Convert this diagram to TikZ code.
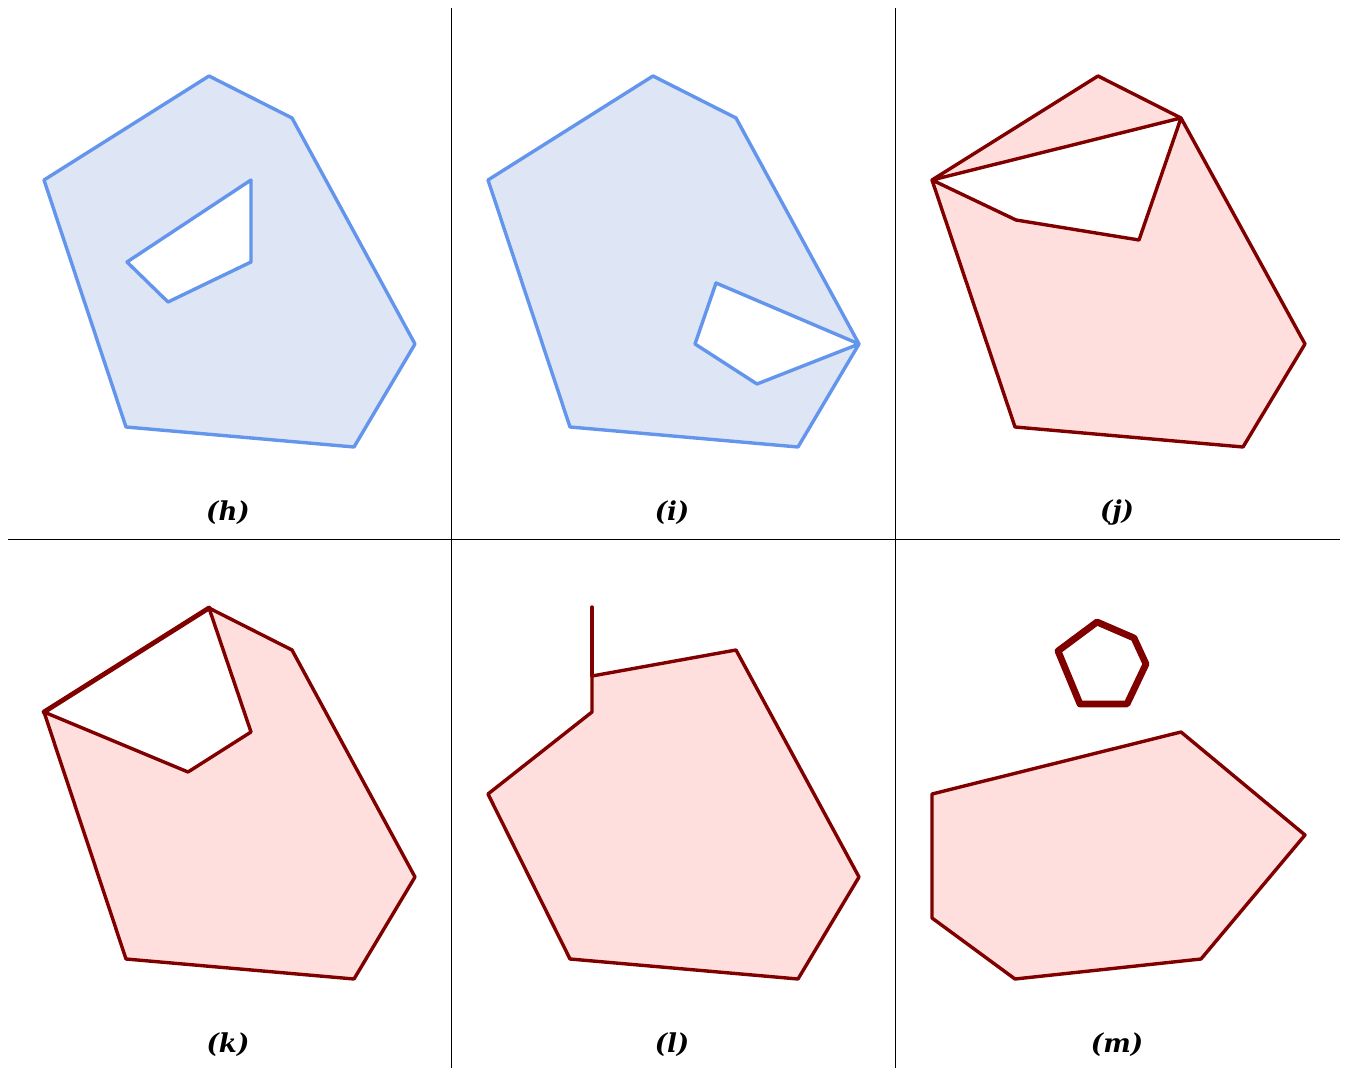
\documentclass[tikz,border=0pt]{standalone}
\usepackage{fontspec}
\setmainfont{DejaVu Serif}
\definecolor{bstroke}{RGB}{100,149,237}
\definecolor{bfill}{RGB}{222,229,245}
\definecolor{rstroke}{RGB}{128,0,0}
\definecolor{rfill}{RGB}{255,222,222}
\begin{document}
\begin{tikzpicture}[x=0.5pt,y=-0.5pt,
  bpoly/.style={draw=bstroke,fill=bfill,line width=1.7pt,even odd rule,line join=round},
  rpoly/.style={draw=rstroke,fill=rfill,line width=1.7pt,even odd rule,line join=round,line cap=round},
  grid/.style={draw=black,line width=0.5pt},
  lab/.style={font=\fontsize{13}{16}\selectfont\bfseries\itshape}]
\useasboundingbox (0,0) rectangle (1348,1068);
% grid
\draw[grid] (451,8) -- (451,1068);
\draw[grid] (895,8) -- (895,1068);
\draw[grid] (8,540) -- (1340,540);
% (h)
\path[bpoly] (44,180) -- (209,76) -- (292,118) -- (415,344) -- (354,447) -- (126,427) -- cycle
  (251,180) -- (251,262) -- (168,302) -- (127,262) -- cycle;
% (i)
\path[bpoly] (488,180) -- (653,76) -- (736,118) -- (859,344) -- (798,447) -- (570,427) -- cycle
  (716,283) -- (859,344) -- (757,384) -- (695,344) -- cycle;
% (j)
\path[rpoly] (932,180) -- (1098,76) -- (1181,118) -- (1305,344) -- (1243,447) -- (1015,427) -- cycle
  (932,180) -- (1181,118) -- (1139,240) -- (1016,220) -- cycle;
% (k)
\path[rpoly] (44,712) -- (209,608) -- (292,650) -- (415,877) -- (354,979) -- (126,959) -- cycle
  (44,712) -- (209,608) -- (251,732) -- (188,772) -- cycle;
\draw[draw=rstroke,line width=2.4pt,line cap=round] (44,712) -- (209,608);
% (l)
\path[rpoly] (488,794) -- (592,712) -- (592,676) -- (736,650) -- (859,877) -- (798,979) -- (570,959) -- cycle;
\draw[draw=rstroke,line width=1.7pt,line cap=round] (592,676) -- (592,607);
% (m)
\path[rpoly] (932,794) -- (1181,732) -- (1305,835) -- (1201,959) -- (1015,979) -- (932,918) -- cycle;
\draw[draw=rstroke,line width=3.4pt,line join=round] (1097,622) -- (1134,638) -- (1146,664) -- (1127,704) -- (1080,704) -- (1058,651) -- cycle;
% labels
\node[lab] (lh) at (228,513) {(h)};
\node[lab] (li) at (672,513) {(i)};
\node[lab] (lj) at (1117,513) {(j)};
\node[lab] (lk) at (228,1045) {(k)};
\node[lab] (ll) at (672,1045) {(l)};
\node[lab] (lm) at (1117,1045) {(m)};
\end{tikzpicture}
\end{document}
